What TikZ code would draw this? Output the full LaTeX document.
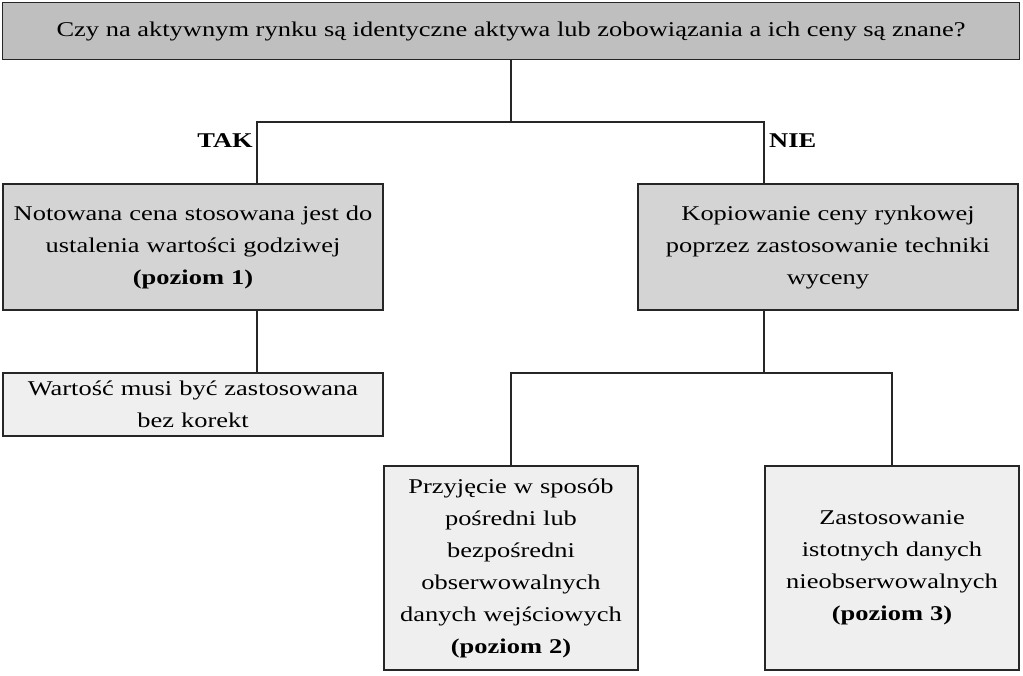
\documentclass[tikz,border=0pt]{standalone}
\usepackage{fontspec}
\setmainfont{Liberation Serif}[FakeStretch=1.26]
\definecolor{ciemny}{HTML}{BFBFBF}
\definecolor{sredni}{HTML}{D4D4D4}
\definecolor{jasny}{HTML}{EFEFEF}
\begin{document}
\begin{tikzpicture}[x=1pt,y=-1pt,
        every node/.style={font=\fontsize{21}{32}\selectfont},
        pole/.style={draw=black!85,line width=1.6pt,inner sep=0pt,align=center},
        pytanie/.style={pole,fill=ciemny,minimum width=1017pt,minimum height=57pt},
        poziom/.style={pole,fill=sredni,minimum width=380pt,minimum height=126pt,text width=376pt},
        wynik/.style={pole,fill=jasny,text width=250pt,minimum width=254pt},
        odp/.style={font=\fontsize{21}{32}\selectfont\bfseries,inner sep=0pt},
        lacznik/.style={draw=black!85,line width=1.8pt},
        ]
    \useasboundingbox (0,0) rectangle (1023,675);
    \node (pytanie) [pytanie] at (511,31)
        {Czy na aktywnym rynku są identyczne aktywa lub zobowiązania a ich ceny są znane?};
    \node (notowana) [poziom] at (193,247)
        {Notowana cena stosowana jest do\\ustalenia wartości godziwej\\\textbf{(poziom 1)}};
    \node (kopiowanie) [poziom] at (828,247)
        {Kopiowanie ceny rynkowej\\poprzez zastosowanie techniki\\wyceny};
    \node (wartosc) [wynik, fill=jasny, minimum width=380pt, text width=376pt,
        minimum height=63pt] at (193,404.5)
        {Wartość musi być zastosowana\\bez korekt};
    \node (przyjecie) [wynik, minimum height=204pt] at (511,568)
        {Przyjęcie w sposób\\pośredni lub\\bezpośredni\\obserwowalnych\\danych wejściowych\\\textbf{(poziom 2)}};
    \node (zastosowanie) [wynik, minimum height=204pt] at (892,568)
        {Zastosowanie\\istotnych danych\\nieobserwowalnych\\\textbf{(poziom 3)}};
    % rozgalezienia
    \coordinate (tak) at (257,122);
    \coordinate (nie) at (764,122);
    \coordinate (rozgal) at (764,373);
    \node (taklab) [odp, anchor=base east] at (253,147) {TAK};
    \node (nielab) [odp, anchor=base west] at (769,147) {NIE};
    \draw[lacznik] (pytanie.south) |- (tak) -- (tak |- notowana.north);
    \draw[lacznik] (pytanie.south) |- (nie) -- (nie |- kopiowanie.north);
    \draw[lacznik] (notowana.south -| tak) -- (tak |- wartosc.north);
    \draw[lacznik] (kopiowanie.south -| rozgal) -- (rozgal);
    \draw[lacznik] (przyjecie.north) |- (rozgal) -| (zastosowanie.north);
\end{tikzpicture}
\end{document}
